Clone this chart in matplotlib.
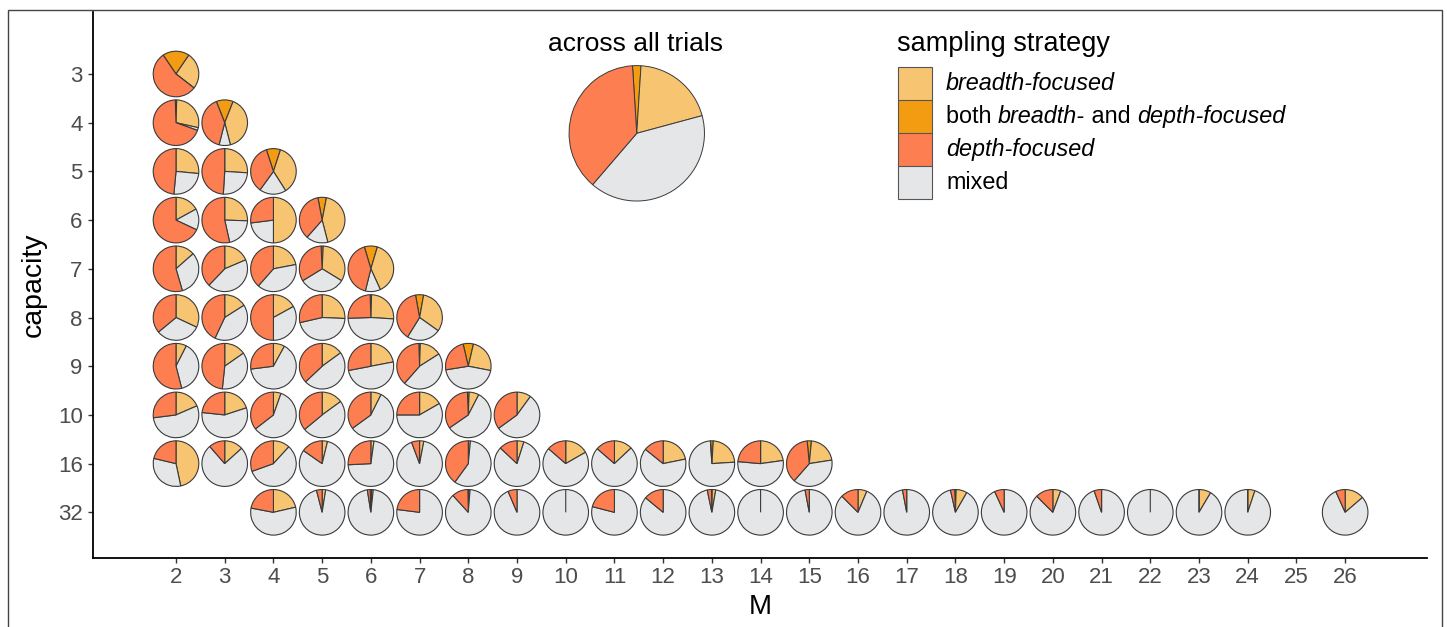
import matplotlib
matplotlib.use("Agg")
import matplotlib.pyplot as plt
from matplotlib.patches import Wedge, Rectangle

plt.rcParams['font.family'] = ['Liberation Sans', 'DejaVu Sans']

# ---------------- data ----------------
capacities = [3, 4, 5, 6, 7, 8, 9, 10, 16, 32]
M_ticks = list(range(2, 27))

# one entry per pie (capacity row, M column) and the share of each strategy
pie_capacity = [
    3,
    4, 4,
    5, 5, 5,
    6, 6, 6, 6,
    7, 7, 7, 7, 7,
    8, 8, 8, 8, 8, 8,
    9, 9, 9, 9, 9, 9, 9,
    10, 10, 10, 10, 10, 10, 10, 10,
    16, 16, 16, 16, 16, 16, 16, 16, 16, 16, 16, 16, 16, 16,
    32, 32, 32, 32, 32, 32, 32, 32, 32, 32, 32, 32, 32, 32, 32, 32, 32, 32, 32, 32, 32, 32,
]
pie_M = [
    2,
    2, 3,
    2, 3, 4,
    2, 3, 4, 5,
    2, 3, 4, 5, 6,
    2, 3, 4, 5, 6, 7,
    2, 3, 4, 5, 6, 7, 8,
    2, 3, 4, 5, 6, 7, 8, 9,
    2, 3, 4, 5, 6, 7, 8, 9, 10, 11, 12, 13, 14, 15,
    4, 5, 6, 7, 8, 9, 10, 11, 12, 13, 14, 15, 16, 17, 18, 19, 20, 21, 22, 23, 24, 26,
]
breadth = [
    0.26,
    0.28, 0.40,
    0.265, 0.26, 0.36,
    0.17, 0.255, 0.50, 0.43,
    0.135, 0.186, 0.22, 0.33, 0.386,
    0.32, 0.16, 0.17, 0.257, 0.255, 0.32,
    0.075, 0.153, 0.08, 0.15, 0.22, 0.155, 0.244,
    0.185, 0.20, 0.054, 0.15, 0.074, 0.167, 0.07, 0.10,
    0.467, 0.133, 0.118, 0.038, 0.022, 0.03, 0.015, 0.049, 0.167, 0.13, 0.218, 0.23, 0.228, 0.21,
    0.214, 0.025, 0.012, 0.0, 0.01, 0.0, 0.0, 0.0, 0.0, 0.025, 0.0, 0.0, 0.063, 0.0, 0.078, 0.0, 0.056, 0.0, 0.0, 0.085, 0.051, 0.137,
]
both = [
    0.19,
    0.01, 0.12,
    0.0, 0.0, 0.10,
    0.0, 0.0, 0.0, 0.06,
    0.0, 0.0, 0.0, 0.015, 0.092,
    0.0, 0.0, 0.0, 0.0, 0.01, 0.057,
    0.0, 0.0, 0.0, 0.0, 0.0, 0.01, 0.073,
    0.0, 0.0, 0.0, 0.0, 0.0, 0.0, 0.012, 0.0,
    0.0, 0.0, 0.0, 0.0, 0.0, 0.0, 0.0, 0.0, 0.0, 0.0, 0.0, 0.02, 0.0, 0.03,
    0.0, 0.0, 0.01, 0.0, 0.005, 0.0, 0.0, 0.0, 0.0, 0.005, 0.0, 0.0, 0.0, 0.0, 0.01, 0.0, 0.0, 0.0, 0.0, 0.0, 0.0, 0.0,
]
depth = [
    0.55,
    0.69, 0.40,
    0.485, 0.49, 0.35,
    0.68, 0.535, 0.27, 0.355,
    0.545, 0.378, 0.385, 0.33, 0.415,
    0.36, 0.43, 0.50, 0.286, 0.25, 0.383,
    0.54, 0.483, 0.27, 0.37, 0.28, 0.38, 0.239,
    0.27, 0.233, 0.355, 0.36, 0.35, 0.25, 0.34, 0.35,
    0.213, 0.114, 0.305, 0.153, 0.258, 0.057, 0.40, 0.13, 0.136, 0.136, 0.142, 0.0, 0.236, 0.37,
    0.22, 0.04, 0.02, 0.23, 0.115, 0.064, 0.0, 0.21, 0.14, 0.03, 0.0, 0.03, 0.125, 0.03, 0.03, 0.068, 0.125, 0.053, 0.0, 0.0, 0.0, 0.067,
]
mixed = [
    0.0,
    0.02, 0.08,
    0.25, 0.25, 0.19,
    0.15, 0.21, 0.23, 0.155,
    0.32, 0.436, 0.395, 0.325, 0.107,
    0.32, 0.41, 0.33, 0.457, 0.485, 0.24,
    0.385, 0.364, 0.65, 0.48, 0.50, 0.455, 0.444,
    0.545, 0.567, 0.591, 0.49, 0.576, 0.583, 0.578, 0.55,
    0.32, 0.753, 0.577, 0.809, 0.72, 0.913, 0.585, 0.821, 0.697, 0.734, 0.64, 0.75, 0.536, 0.39,
    0.566, 0.935, 0.958, 0.77, 0.87, 0.936, 1.0, 0.79, 0.86, 0.94, 1.0, 0.97, 0.812, 0.97, 0.882, 0.932, 0.819, 0.947, 1.0, 0.915, 0.949, 0.796,
]

# across all trials
all_breadth, all_both, all_depth, all_mixed = 0.198, 0.02, 0.377, 0.405

strategy_labels = ['breadth-focused', 'both breadth- and depth-focused', 'depth-focused', 'mixed']
col_breadth = '#F7C572'
col_both = '#F39C12'
col_depth = '#FD7E50'
col_mixed = '#E5E6E8'
edge_col = '#3a3a3a'

# ---------------- figure ----------------
W, H = 1447, 627
fig = plt.figure(figsize=(W / 100, H / 100), dpi=100)

ax_left, ax_right, ax_top, ax_bottom = 93, 1427, 12, 558.3
ax = fig.add_axes([ax_left / W, 1 - ax_bottom / H, (ax_right - ax_left) / W, (ax_bottom - ax_top) / H])

ax.set_xlim(0.296, 27.68)
ax.set_ylim(-9.944, 1.273)

row_of = {c: i for i, c in enumerate(capacities)}


def draw_pie(x, y, r, b, bo, d, m, lw):
    tot = b + bo + d + m
    parts = [(bo, col_both), (b, col_breadth), (m, col_mixed), (d, col_depth)]
    a = -bo / tot * 360.0 / 2.0  # clockwise angle from 12 o'clock
    for val, col in parts:
        a1 = a + val / tot * 360.0
        w = Wedge((x, y), r, 90 - a1, 90 - a, facecolor=col, edgecolor=edge_col,
                  linewidth=lw, joinstyle='miter')
        ax.add_patch(w)
        a = a1


for cap, mm, b, bo, d, mx in zip(pie_capacity, pie_M, breadth, both, depth, mixed):
    draw_pie(mm, -row_of[cap], 0.468, b, bo, d, mx, 0.8)

# overall pie
draw_pie(11.458, -1.218, 1.39, all_breadth, all_both, all_depth, all_mixed, 0.7)
ax.text(11.43, 0.62, 'across all trials', ha='center', va='center', fontsize=19, color='black')

# axes styling
for s in ['top', 'right']:
    ax.spines[s].set_visible(False)
for s in ['left', 'bottom']:
    ax.spines[s].set_linewidth(1.3)
    ax.spines[s].set_color('black')

ax.set_xticks(M_ticks)
ax.set_xticklabels([str(v) for v in M_ticks])
ax.set_yticks([-row_of[c] for c in capacities])
ax.set_yticklabels([str(c) for c in capacities])
ax.tick_params(axis='both', length=3.4, width=1.0, color='#333333', labelcolor='#4D4D4D', labelsize=16)
ax.tick_params(axis='x', pad=3)
ax.tick_params(axis='y', pad=4)
ax.set_xlabel('M', fontsize=20, labelpad=4)
ax.set_ylabel('capacity', fontsize=20.5, labelpad=8)

# legend (manual)
fig.text(897 / W, 1 - 44 / H, 'sampling strategy', fontsize=19.5, va='center', ha='left')
key_cols = [col_breadth, col_both, col_depth, col_mixed]
key_tops = [67, 100, 133, 166]
for kc, kt in zip(key_cols, key_tops):
    fig.add_artist(Rectangle((898 / W, 1 - (kt + 33.5) / H), 34 / W, 33.5 / H,
                             transform=fig.transFigure, facecolor=kc, edgecolor='#555555', linewidth=0.8))
lab_x = 946 / W
ys = [1 - (kt + 16.5) / H for kt in key_tops]
fs = 16.8
fig.text(lab_x, ys[0], strategy_labels[0], fontsize=fs, style='italic', va='center')
t1 = fig.text(lab_x, ys[1], 'both ', fontsize=fs, va='center')
t2 = ax.annotate('breadth-', xy=(1, 0), xycoords=t1, fontsize=fs, style='italic', va='bottom', ha='left', annotation_clip=False)
t3 = ax.annotate(' and ', xy=(1, 0), xycoords=t2, fontsize=fs, va='bottom', ha='left', annotation_clip=False)
t4 = ax.annotate('depth-focused', xy=(1, 0), xycoords=t3, fontsize=fs, style='italic', va='bottom', ha='left', annotation_clip=False)
fig.text(lab_x, ys[2], strategy_labels[2], fontsize=fs, style='italic', va='center')
fig.text(lab_x, ys[3], strategy_labels[3], fontsize=fs, va='center')

# outer frame of the figure
fig.add_artist(Rectangle((8 / W, -0.05), (1442 - 8) / W, 1.05 - 10 / H, transform=fig.transFigure,
                         fill=False, edgecolor='#444444', linewidth=1.0))

fig.savefig('out.png', dpi=100)
